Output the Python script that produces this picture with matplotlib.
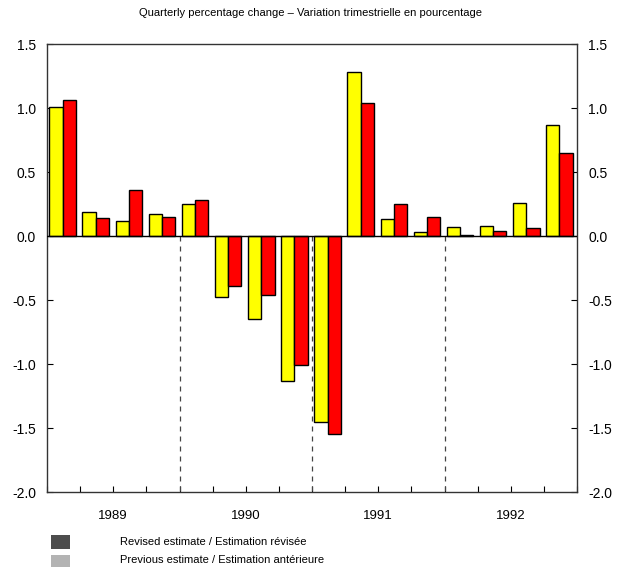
import matplotlib
matplotlib.use("Agg")
import matplotlib.pyplot as plt
from matplotlib.patches import Rectangle

plt.rcParams['font.family'] = ['Liberation Sans', 'DejaVu Sans']

years = ["1989", "1990", "1991", "1992"]
previous = [1.01, 0.19, 0.12, 0.17, 0.25, -0.48, -0.65, -1.13,
            -1.45, 1.28, 0.13, 0.03, 0.07, 0.08, 0.26, 0.87]
revised = [1.06, 0.14, 0.36, 0.15, 0.28, -0.39, -0.46, -1.01,
           -1.55, 1.04, 0.25, 0.15, 0.005, 0.04, 0.06, 0.65]
yticks = [1.5, 1.0, 0.5, 0.0, -0.5, -1.0, -1.5, -2.0]
title = "Quarterly percentage change \u2013 Variation trimestrielle en pourcentage"
legend_labels = ["Revised estimate / Estimation r\u00e9vis\u00e9e",
                 "Previous estimate / Estimation ant\u00e9rieure"]

fig = plt.figure(figsize=(6.21, 5.77), dpi=100)
ax = fig.add_axes([47/621, 1-492/577, 530/621, 448/577])

n = len(previous)
w = 0.4
xs = [i + 0.47 for i in range(n)]
ax.bar([x - w/2 for x in xs], previous, width=w, color="#ffff00", edgecolor="black", linewidth=1.0, zorder=3)
ax.bar([x + w/2 for x in xs], revised, width=w, color="#ff0000", edgecolor="black", linewidth=1.0, zorder=3)

ax.axhline(0, color="black", linewidth=1.0, zorder=4)
for b in [4, 8, 12]:
    ax.plot([b, b], [0, -2.0], color="#444444", linestyle=(0, (4, 4)), linewidth=0.9, zorder=2)

ax.set_xlim(0, n)
ax.set_ylim(-2.0, 1.5)
ax.set_yticks(yticks)
ax.set_yticklabels([f"{v:.1f}" for v in yticks])
ax.tick_params(axis='y', which='both', direction='in', left=True, right=True,
               labelleft=True, labelright=True, labelsize=10, length=4, pad=8)
ax.xaxis.remove_overlapping_locs = False
ax.set_xticks(range(0, n + 1))
ax.set_xticklabels([])
ax.tick_params(axis='x', which='major', direction='in', length=4, bottom=True, top=False)
ax.set_xticks([2 + 4*i for i in range(4)], minor=True)
ax.set_xticklabels(years, minor=True)
ax.tick_params(axis='x', which='minor', length=0, pad=13, labelsize=9.5)
for s in ax.spines.values():
    s.set_linewidth(1.0)
    s.set_color("#333333")

fig.text(0.5, 1-13/577, title, ha='center', va='center', fontsize=8)

fig.patches.append(Rectangle((51/621, 1-549/577), 19/621, 14/577, transform=fig.transFigure,
                             facecolor="#4d4d4d", edgecolor="none"))
fig.patches.append(Rectangle((51/621, 1-567/577), 19/621, 12/577, transform=fig.transFigure,
                             facecolor="#b3b3b3", edgecolor="none"))
fig.text(120/621, 1-542/577, legend_labels[0], ha='left', va='center', fontsize=8)
fig.text(120/621, 1-560/577, legend_labels[1], ha='left', va='center', fontsize=8)

fig.savefig("out.png", dpi=100)
